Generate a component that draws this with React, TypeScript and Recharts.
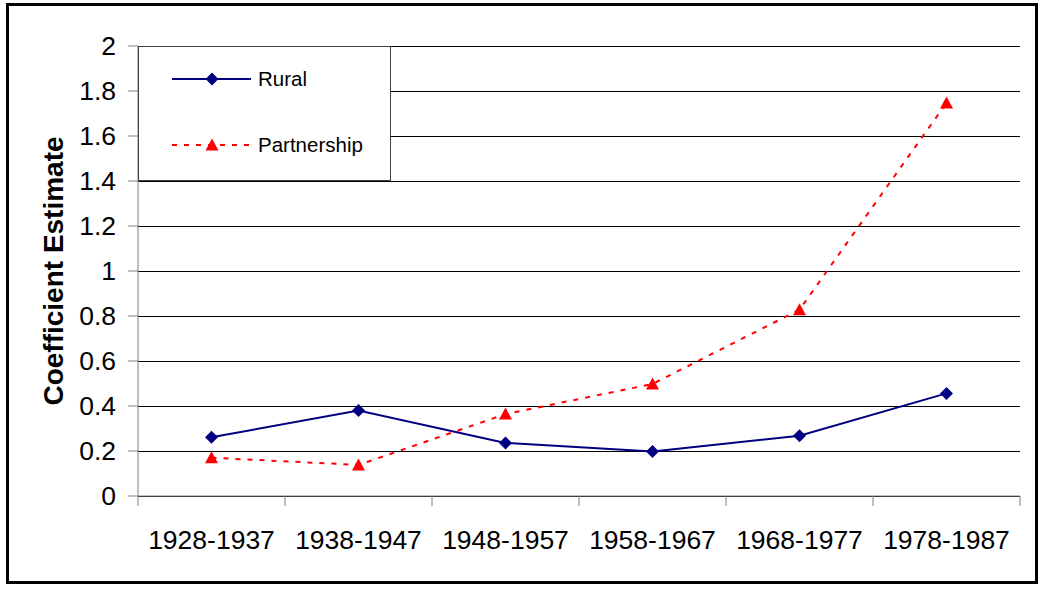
import { LineChart, Line, XAxis, YAxis, CartesianGrid, Legend } from 'recharts';

const categories = ['1928-1937', '1938-1947', '1948-1957', '1958-1967', '1968-1977', '1978-1987'];
const rural = [0.261, 0.38, 0.236, 0.198, 0.268, 0.456];
const partnership = [0.17, 0.138, 0.364, 0.498, 0.828, 1.747];
const yTicks = [0, 0.2, 0.4, 0.6, 0.8, 1, 1.2, 1.4, 1.6, 1.8, 2];

const data = categories.map((c, i) => ({ period: c, rural: rural[i], partnership: partnership[i] }));

const FONT = '"Liberation Sans", Arial, sans-serif';
const W = 1041;
const H = 592;
const PLOT_LEFT = 138;
const PLOT_RIGHT = 1020;
const PLOT_TOP = 46;
const PLOT_BOTTOM = 496;
const BAND = (PLOT_RIGHT - PLOT_LEFT) / categories.length;
const AXIS_GRAY = '#808080';

function Diamond({ cx, cy }: any) {
  if (cx == null || cy == null) return null;
  return <path d={`M${cx},${cy - 6.5}L${cx + 6.5},${cy}L${cx},${cy + 6.5}L${cx - 6.5},${cy}Z`} fill="#000080" />;
}

function Triangle({ cx, cy }: any) {
  if (cx == null || cy == null) return null;
  return <path d={`M${cx},${cy - 6.5}L${cx + 6.5},${cy + 5.5}L${cx - 6.5},${cy + 5.5}Z`} fill="#ff0000" />;
}

function XTick({ x, payload, index }: any) {
  const last = index === categories.length - 1;
  return (
    <g>
      <line x1={x - BAND / 2} y1={PLOT_BOTTOM} x2={x - BAND / 2} y2={PLOT_BOTTOM + 10} stroke={AXIS_GRAY} />
      {last && <line x1={x + BAND / 2} y1={PLOT_BOTTOM} x2={x + BAND / 2} y2={PLOT_BOTTOM + 10} stroke={AXIS_GRAY} />}
      <text x={x} y={549} textAnchor="middle" fontSize={26.5} fontFamily={FONT} fill="#000">
        {payload.value}
      </text>
    </g>
  );
}

function LegendBox() {
  return (
    <svg width={253} height={135} style={{ display: 'block' }}>
      <rect x={0.5} y={0.5} width={252} height={134} fill="#fff" stroke="#404040" />
      <line x1={34} y1={33} x2={113} y2={33} stroke="#000080" strokeWidth={2} />
      <Diamond cx={74} cy={33} />
      <text x={120} y={40} fontSize={20.5} fontFamily={FONT} fill="#000">Rural</text>
      <line x1={34} y1={99} x2={113} y2={99} stroke="#ff0000" strokeWidth={2} strokeDasharray="5 7" />
      <Triangle cx={74} cy={99} />
      <text x={120} y={106} fontSize={20.5} fontFamily={FONT} fill="#000">Partnership</text>
    </svg>
  );
}

export default function App() {
  return (
    <div style={{ position: 'absolute', left: 0, top: 0, width: W, height: H, background: '#fff' }}>
      <div
        style={{
          position: 'absolute',
          left: 6,
          top: 3,
          width: 1032,
          height: 581,
          border: '3px solid #000',
          boxSizing: 'border-box',
        }}
      />
      <LineChart
        width={W}
        height={H}
        data={data}
        margin={{ top: PLOT_TOP, right: W - PLOT_RIGHT, bottom: 0, left: 0 }}
        style={{ position: 'absolute', left: 0, top: 0 }}
      >
        <CartesianGrid vertical={false} stroke="#000" shapeRendering="crispEdges" />
        <XAxis
          dataKey="period"
          height={H - PLOT_BOTTOM}
          padding={{ left: BAND / 2, right: BAND / 2 }}
          axisLine={{ stroke: AXIS_GRAY }}
          tickLine={false}
          tick={<XTick />}
          interval={0}
        />
        <YAxis
          domain={[0, 2]}
          ticks={yTicks}
          width={PLOT_LEFT}
          axisLine={{ stroke: AXIS_GRAY }}
          tickLine={{ stroke: AXIS_GRAY }}
          tickSize={10}
          tickMargin={12}
          tick={{ fontSize: 26.5, fontFamily: FONT, fill: '#000' }}
          label={{
            value: 'Coefficient Estimate',
            angle: -90,
            position: 'insideLeft',
            dx: 48,
            fontSize: 28,
            fontWeight: 'bold',
            fontFamily: FONT,
            fill: '#000',
            style: { textAnchor: 'middle' },
          }}
        />
        <YAxis
          yAxisId="right"
          orientation="right"
          domain={[0, 2]}
          width={0}
          tick={false}
          tickLine={false}
          axisLine={{ stroke: AXIS_GRAY }}
        />
        <Legend
          layout="horizontal"
          verticalAlign="middle"
          align="center"
          content={<LegendBox />}
          wrapperStyle={{ left: PLOT_LEFT, top: PLOT_TOP, width: 253, height: 135 }}
        />
        <Line
          dataKey="rural"
          stroke="#000080"
          strokeWidth={2}
          dot={<Diamond />}
          activeDot={false}
          isAnimationActive={false}
        />
        <Line
          dataKey="partnership"
          stroke="#ff0000"
          strokeWidth={2}
          strokeDasharray="5 7"
          dot={<Triangle />}
          activeDot={false}
          isAnimationActive={false}
        />
      </LineChart>
    </div>
  );
}
